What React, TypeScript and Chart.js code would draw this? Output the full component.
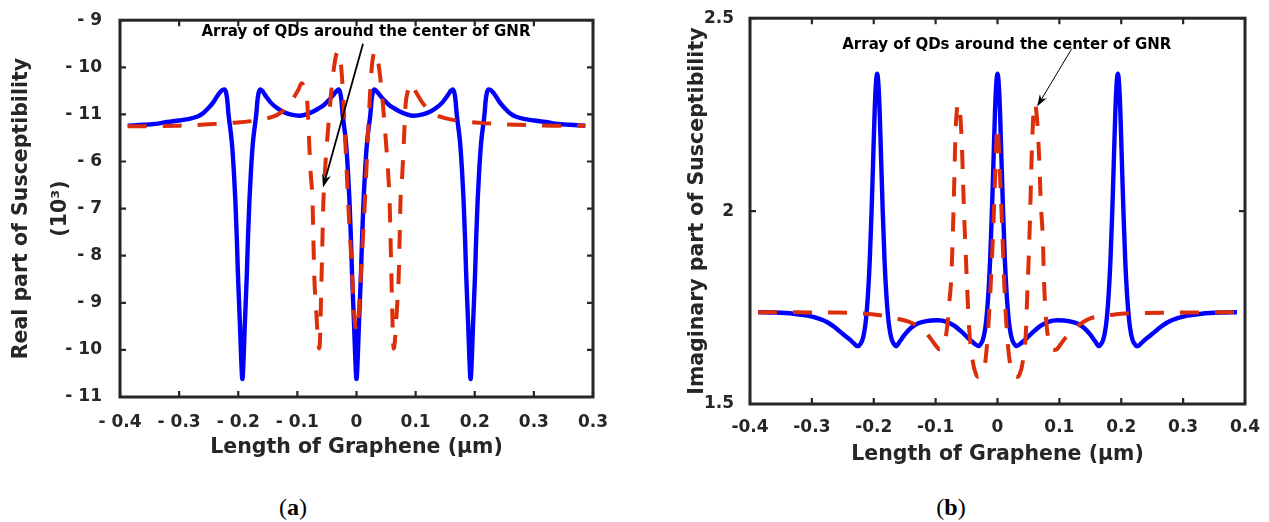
import React, { useEffect, useRef } from 'react';
import { Chart, registerables } from 'chart.js';

Chart.register(...registerables);

// ---------- Panel (a): real part (plot units 0..8 on the y scale) ----------
const A_BLUE_X = [-0.387, -0.36, -0.34, -0.32, -0.30, -0.285, -0.27, -0.26, -0.25, -0.242, -0.236, -0.23, -0.2265,
  -0.2235, -0.2205, -0.2185, -0.2167, -0.2108, -0.2075, -0.205, -0.2025, -0.2005, -0.197, -0.195, -0.193, -0.191, -0.189, -0.1855, -0.1835, -0.181, -0.1785, -0.1752, -0.1693, -0.1675, -0.1655, -0.1625,
  -0.1595, -0.155, -0.15, -0.145, -0.135, -0.125, -0.112, -0.097, -0.085, -0.075, -0.065, -0.055, -0.047, -0.040, -0.0335,
  -0.0305, -0.0275, -0.0255, -0.0237, -0.0178, -0.0145, -0.012, -0.0095, -0.0075, -0.004, -0.002, 0, 0.002, 0.004, 0.0075, 0.0095, 0.012, 0.0145, 0.0178, 0.0237, 0.0255, 0.0275, 0.0305,
  0.0335, 0.040, 0.047, 0.055, 0.065, 0.075, 0.085, 0.097, 0.112, 0.125, 0.135, 0.145, 0.15, 0.155, 0.1595,
  0.1625, 0.1655, 0.1675, 0.1693, 0.1752, 0.1785, 0.181, 0.1835, 0.1855, 0.189, 0.191, 0.193, 0.195, 0.197, 0.2005, 0.2025, 0.205, 0.2075, 0.2108, 0.2167, 0.2185, 0.2205, 0.2235,
  0.2265, 0.23, 0.236, 0.242, 0.25, 0.26, 0.27, 0.285, 0.30, 0.32, 0.34, 0.36, 0.387];
const A_BLUE_Y = [5.76, 5.78, 5.80, 5.84, 5.87, 5.90, 5.95, 6.02, 6.14, 6.26, 6.38, 6.48, 6.52,
  6.53, 6.46, 6.30, 6.03, 5.40, 4.80, 4.20, 3.40, 2.60, 1.50, 0.80, 0.38, 0.80, 1.50, 2.60, 3.40, 4.20, 4.80, 5.40, 6.03, 6.30, 6.46, 6.53,
  6.50, 6.42, 6.33, 6.25, 6.14, 6.06, 6.00, 5.97, 6.00, 6.05, 6.12, 6.20, 6.30, 6.40, 6.50,
  6.53, 6.46, 6.30, 6.03, 5.40, 4.80, 4.20, 3.40, 2.60, 1.50, 0.80, 0.38, 0.80, 1.50, 2.60, 3.40, 4.20, 4.80, 5.40, 6.03, 6.30, 6.46, 6.53,
  6.50, 6.40, 6.30, 6.20, 6.12, 6.05, 6.00, 5.97, 6.00, 6.06, 6.14, 6.25, 6.33, 6.42, 6.50,
  6.53, 6.46, 6.30, 6.03, 5.40, 4.80, 4.20, 3.40, 2.60, 1.50, 0.80, 0.38, 0.80, 1.50, 2.60, 3.40, 4.20, 4.80, 5.40, 6.03, 6.30, 6.46, 6.53,
  6.52, 6.48, 6.38, 6.26, 6.14, 6.02, 5.95, 5.90, 5.87, 5.84, 5.80, 5.78, 5.76];

const A_RED_X = [-0.387, -0.35, -0.30, -0.25, -0.21, -0.17, -0.15, -0.134, -0.122, -0.112, -0.104, -0.098,
  -0.093, -0.089, -0.086, -0.083, -0.080, -0.0775, -0.0745, -0.073, -0.0715, -0.068, -0.065, -0.063, -0.0615, -0.0605, -0.059, -0.0575, -0.056, -0.0525, -0.048, -0.043, -0.038, -0.034,
  -0.031, -0.028, -0.0255, -0.0237, -0.0203, -0.017, -0.014, -0.0105, -0.007, -0.0035, 0, 0.0035, 0.007, 0.0105, 0.014, 0.017, 0.0203, 0.0237, 0.0255, 0.028, 0.031,
  0.034, 0.038, 0.043, 0.048, 0.0525, 0.056, 0.0575, 0.059, 0.0605, 0.0615, 0.063, 0.065, 0.068, 0.0715, 0.073, 0.0745, 0.0775, 0.080, 0.083, 0.086, 0.089, 0.093,
  0.098, 0.104, 0.112, 0.122, 0.134, 0.15, 0.17, 0.21, 0.25, 0.30, 0.35, 0.387];
const A_RED_Y = [5.75, 5.75, 5.76, 5.79, 5.82, 5.87, 5.92, 5.99, 6.10, 6.24, 6.40, 6.53,
  6.66, 6.60, 6.45, 6.20, 5.40, 4.75, 4.20, 3.40, 2.60, 1.80, 1.20, 1.03, 1.30, 1.80, 2.60, 3.40, 4.15, 4.95, 5.70, 6.45, 7.00, 7.28,
  7.33, 7.22, 6.95, 6.62, 5.78, 4.91, 4.10, 3.30, 2.50, 1.70, 1.40, 1.70, 2.50, 3.30, 4.10, 4.91, 5.78, 6.62, 6.95, 7.22, 7.33,
  7.28, 7.00, 6.45, 5.70, 4.95, 4.15, 3.40, 2.60, 1.80, 1.30, 1.03, 1.20, 1.80, 2.60, 3.40, 4.20, 4.75, 5.40, 6.20, 6.45, 6.60, 6.66,
  6.53, 6.40, 6.24, 6.10, 5.99, 5.92, 5.87, 5.82, 5.79, 5.77, 5.76, 5.76];

const A_Y_TICK_LABELS = ['- 11', '- 10', '- 9', '- 8', '- 7', '- 6', '- 11', '- 10', '- 9'];
const A_X_TICK_LABELS = ['- 0.4', '- 0.3', '- 0.2', '- 0.1', '0', '0.1', '0.2', '0.3', '0.3'];

// ---------- Panel (b): imaginary part ----------
const B_BLUE_X = [-0.387, -0.36, -0.33, -0.307, -0.29, -0.275, -0.264, -0.254, -0.245, -0.238, -0.232, -0.228,
  -0.2245, -0.2215, -0.2185, -0.2155, -0.2125, -0.2095, -0.2065, -0.2035, -0.201, -0.1985, -0.1965, -0.1945, -0.1925, -0.1905, -0.188, -0.1855, -0.1825, -0.1795, -0.1765, -0.1735, -0.1705, -0.1675, -0.164,
  -0.158, -0.150, -0.140, -0.128, -0.115, -0.097, -0.082, -0.070, -0.060, -0.050, -0.042, -0.036,
  -0.0305, -0.027, -0.024, -0.021, -0.018, -0.015, -0.012, -0.009, -0.0065, -0.004, -0.002, 0, 0.002, 0.004, 0.0065, 0.009, 0.012, 0.015, 0.018, 0.021, 0.024, 0.027, 0.0305,
  0.036, 0.042, 0.050, 0.060, 0.070, 0.082, 0.097, 0.115, 0.128, 0.140, 0.150, 0.158,
  0.164, 0.1675, 0.1705, 0.1735, 0.1765, 0.1795, 0.1825, 0.1855, 0.188, 0.1905, 0.1925, 0.1945, 0.1965, 0.1985, 0.201, 0.2035, 0.2065, 0.2095, 0.2125, 0.2155, 0.2185, 0.2215, 0.2245,
  0.228, 0.232, 0.238, 0.245, 0.254, 0.264, 0.275, 0.29, 0.307, 0.33, 0.36, 0.387];
const B_BLUE_Y = [1.738, 1.737, 1.734, 1.729, 1.722, 1.712, 1.700, 1.687, 1.675, 1.666, 1.657, 1.651,
  1.650, 1.656, 1.665, 1.685, 1.72, 1.78, 1.87, 2.0, 2.13, 2.26, 2.33, 2.356, 2.33, 2.26, 2.13, 2.0, 1.87, 1.78, 1.72, 1.685, 1.665, 1.656, 1.650,
  1.662, 1.680, 1.697, 1.709, 1.715, 1.717, 1.713, 1.703, 1.690, 1.675, 1.663, 1.655,
  1.650, 1.656, 1.665, 1.685, 1.72, 1.78, 1.87, 2.0, 2.13, 2.26, 2.33, 2.356, 2.33, 2.26, 2.13, 2.0, 1.87, 1.78, 1.72, 1.685, 1.665, 1.656, 1.650,
  1.655, 1.663, 1.675, 1.690, 1.703, 1.713, 1.717, 1.715, 1.709, 1.697, 1.680, 1.662,
  1.650, 1.656, 1.665, 1.685, 1.72, 1.78, 1.87, 2.0, 2.13, 2.26, 2.33, 2.356, 2.33, 2.26, 2.13, 2.0, 1.87, 1.78, 1.72, 1.685, 1.665, 1.656, 1.650,
  1.651, 1.657, 1.666, 1.675, 1.687, 1.700, 1.712, 1.722, 1.729, 1.734, 1.737, 1.738];

const B_RED_X = [-0.387, -0.34, -0.30, -0.26, -0.22, -0.19, -0.165, -0.145, -0.128, -0.116,
  -0.106, -0.099, -0.094, -0.090, -0.086, -0.083, -0.080, -0.0775, -0.075, -0.0728,
  -0.071, -0.0695, -0.068, -0.066, -0.0635, -0.0605, -0.0578, -0.0558, -0.054, -0.0515,
  -0.049, -0.046, -0.040, -0.035, -0.031, -0.026, -0.020, -0.015, -0.010, -0.006,
  -0.003, 0, 0.003, 0.007, 0.011, 0.014, 0.019, 0.025, 0.031, 0.036,
  0.041, 0.046, 0.048, 0.0505, 0.0525, 0.054, 0.0557, 0.058, 0.0605, 0.063,
  0.0655, 0.068, 0.070, 0.0735, 0.075, 0.078, 0.084, 0.091, 0.096, 0.102,
  0.110, 0.117, 0.128, 0.138, 0.15, 0.18, 0.20, 0.24, 0.30, 0.387];
const B_RED_Y = [1.738, 1.738, 1.737, 1.737, 1.735, 1.730, 1.722, 1.714, 1.701, 1.686,
  1.665, 1.650, 1.642, 1.642, 1.655, 1.680, 1.720, 1.770, 1.818, 1.91,
  2.007, 2.10, 2.196, 2.255, 2.279, 2.255, 2.18, 2.085, 1.994, 1.896,
  1.80, 1.70, 1.611, 1.578, 1.570, 1.580, 1.606, 1.697, 1.84, 1.99,
  2.13, 2.22, 2.13, 1.98, 1.81, 1.715, 1.62, 1.58, 1.570, 1.578,
  1.611, 1.69, 1.78, 1.88, 1.98, 2.07, 2.165, 2.25, 2.279, 2.255,
  2.20, 2.11, 2.02, 1.92, 1.826, 1.73, 1.655, 1.640, 1.642, 1.655,
  1.672, 1.686, 1.700, 1.712, 1.722, 1.730, 1.734, 1.736, 1.737, 1.738];

const B_Y_TICK_LABELS = ['1.5', '2', '2.5'];
const B_X_TICK_LABELS = ['-0.4', '-0.3', '-0.2', '-0.1', '0', '0.1', '0.2', '0.3', '0.4'];

const NOTE_TEXT = 'Array of QDs around the center of GNR';
const X_TITLE = 'Length of Graphene (μm)';
const A_Y_TITLE = ['Real part of Susceptibility', '(10³)'];
const B_Y_TITLE = 'Imaginary part of Susceptibility';

const AXIS_COLOR = '#262626';
const BLUE = '#0000FF';
const RED = '#DC2E08';
const FONT = '"DejaVu Sans", "Liberation Sans", sans-serif';

const toPoints = (xs: number[], ys: number[]) => xs.map((x, i) => ({ x, y: ys[i] }));

const framePlugin = {
  id: 'frameTicks',
  afterDatasetsDraw(chart: any) {
    const { ctx, chartArea } = chart;
    const { left, right, top, bottom } = chartArea;
    const xs = chart.scales.x;
    const ys = chart.scales.y;
    const len = 6;
    ctx.save();
    ctx.strokeStyle = AXIS_COLOR;
    ctx.lineWidth = 2.2;
    ctx.beginPath();
    xs.ticks.forEach((t: any) => {
      const p = xs.getPixelForValue(t.value);
      ctx.moveTo(p, bottom);
      ctx.lineTo(p, bottom - len);
      ctx.moveTo(p, top);
      ctx.lineTo(p, top + len);
    });
    ys.ticks.forEach((t: any) => {
      const p = ys.getPixelForValue(t.value);
      ctx.moveTo(left, p);
      ctx.lineTo(left + len, p);
      ctx.moveTo(right, p);
      ctx.lineTo(right - len, p);
    });
    ctx.stroke();
    ctx.lineWidth = 3;
    ctx.strokeRect(left, top, right - left, bottom - top);
    ctx.restore();
  },
};

const notePlugin = {
  id: 'arrowNote',
  afterDatasetsDraw(chart: any, _args: any, opts: any) {
    if (!opts || !opts.text) return;
    const xs = chart.scales.x;
    const ys = chart.scales.y;
    const ctx = chart.ctx;
    ctx.save();
    ctx.fillStyle = '#000';
    ctx.font = `bold ${opts.fontSize}px ${FONT}`;
    ctx.textAlign = 'center';
    ctx.textBaseline = 'middle';
    ctx.fillText(opts.text, xs.getPixelForValue(opts.textX), ys.getPixelForValue(opts.textY));
    const x1 = xs.getPixelForValue(opts.fromX);
    const y1 = ys.getPixelForValue(opts.fromY);
    const x2 = xs.getPixelForValue(opts.toX);
    const y2 = ys.getPixelForValue(opts.toY);
    const ang = Math.atan2(y2 - y1, x2 - x1);
    const c = Math.cos(ang);
    const s = Math.sin(ang);
    const L = opts.headLen;
    const W = opts.headWidth;
    const nx = x2 - c * L * 0.7;
    const ny = y2 - s * L * 0.7;
    ctx.strokeStyle = '#000';
    ctx.lineWidth = opts.lineWidth;
    ctx.beginPath();
    ctx.moveTo(x1, y1);
    ctx.lineTo(nx, ny);
    ctx.stroke();
    const bx = x2 - c * L;
    const by = y2 - s * L;
    ctx.beginPath();
    ctx.moveTo(x2, y2);
    ctx.lineTo(bx - s * W, by + c * W);
    ctx.lineTo(nx, ny);
    ctx.lineTo(bx + s * W, by - c * W);
    ctx.closePath();
    ctx.fill();
    ctx.restore();
  },
};

const tickFont = { family: FONT, size: 17, weight: 'bold' as const };
const titleFont = { family: FONT, size: 20.5, weight: 'bold' as const };

function makeConfig(p: any): any {
  return {
    type: 'line',
    data: {
      datasets: [
        {
          data: toPoints(p.redX, p.redY),
          borderColor: RED,
          borderWidth: 4,
          borderDash: [19, 16],
          borderCapStyle: 'butt',
          pointRadius: 0,
          fill: false,
          cubicInterpolationMode: 'monotone',
          order: 0,
        },
        {
          data: toPoints(p.blueX, p.blueY),
          borderColor: BLUE,
          borderWidth: 4.4,
          pointRadius: 0,
          fill: false,
          cubicInterpolationMode: 'monotone',
          order: 1,
        },
      ],
    },
    options: {
      animation: false,
      responsive: false,
      maintainAspectRatio: false,
      events: [],
      layout: { padding: p.padding },
      plugins: {
        legend: { display: false },
        tooltip: { enabled: false },
        arrowNote: p.note,
      },
      scales: {
        x: {
          type: 'linear',
          min: -0.4,
          max: 0.4,
          grid: { display: false },
          border: { display: false },
          ticks: {
            stepSize: 0.1,
            autoSkip: false,
            maxRotation: 0,
            minRotation: 0,
            padding: p.xTickPad,
            color: AXIS_COLOR,
            font: tickFont,
            callback: (_v: any, i: number) => p.xLabels[i] ?? '',
          },
          title: {
            display: true,
            text: X_TITLE,
            color: AXIS_COLOR,
            font: titleFont,
            padding: { top: 0, bottom: p.xTitlePad },
          },
          afterFit: (s: any) => { s.height = p.xHeight; },
        },
        y: {
          type: 'linear',
          min: p.yMin,
          max: p.yMax,
          grid: { display: false },
          border: { display: false },
          ticks: {
            stepSize: p.yStep,
            autoSkip: false,
            padding: p.yTickPad,
            color: AXIS_COLOR,
            font: tickFont,
            callback: (_v: any, i: number) => p.yLabels[i] ?? '',
          },
          title: {
            display: true,
            text: p.yTitle,
            color: AXIS_COLOR,
            font: { ...titleFont, lineHeight: p.yTitleLH },
            padding: { top: p.yTitlePad, bottom: 0 },
          },
          afterFit: (s: any) => { s.width = p.yWidth; },
        },
      },
    },
    plugins: [framePlugin, notePlugin],
  };
}

export default function App() {
  const refA = useRef<HTMLCanvasElement | null>(null);
  const refB = useRef<HTMLCanvasElement | null>(null);

  useEffect(() => {
    document.body.style.margin = '0';
    const a = new Chart(refA.current as HTMLCanvasElement, makeConfig({
      redX: A_RED_X, redY: A_RED_Y, blueX: A_BLUE_X, blueY: A_BLUE_Y,
      padding: { left: 0, right: 47, top: 16, bottom: 0 },
      xLabels: A_X_TICK_LABELS, yLabels: A_Y_TICK_LABELS,
      yMin: 0, yMax: 8, yStep: 1,
      xTickPad: 7, yTickPad: 10, xTitlePad: 10.5, xHeight: 73, yWidth: 120,
      yTitle: A_Y_TITLE, yTitleLH: 1.9, yTitlePad: 2,
      note: {
        text: NOTE_TEXT, fontSize: 15, textX: 0.016, textY: 7.74,
        fromX: 0.011, fromY: 7.50, toX: -0.0567, toY: 4.45,
        lineWidth: 1.8, headLen: 13, headWidth: 4.5,
      },
    }));
    const b = new Chart(refB.current as HTMLCanvasElement, makeConfig({
      redX: B_RED_X, redY: B_RED_Y, blueX: B_BLUE_X, blueY: B_BLUE_Y,
      padding: { left: 0, right: 24, top: 17.5, bottom: 0 },
      xLabels: B_X_TICK_LABELS, yLabels: B_Y_TICK_LABELS,
      yMin: 1.5, yMax: 2.5, yStep: 0.5,
      xTickPad: 5, yTickPad: 8, xTitlePad: 3, xHeight: 66, yWidth: 110,
      yTitle: B_Y_TITLE, yTitleLH: 1.2, yTitlePad: 45,
      note: {
        text: NOTE_TEXT, fontSize: 15, textX: 0.015, textY: 2.431,
        fromX: 0.12, fromY: 2.421, toX: 0.064, toY: 2.271,
        lineWidth: 1, headLen: 12, headWidth: 4,
      },
    }));
    return () => {
      a.destroy();
      b.destroy();
    };
  }, []);

  const capStyle: React.CSSProperties = {
    position: 'absolute',
    top: 507,
    transform: 'translate(-50%, -50%)',
    fontFamily: '"Liberation Serif", "DejaVu Serif", serif',
    fontSize: 24,
    color: '#000',
    whiteSpace: 'nowrap',
    lineHeight: 1,
  };

  return (
    <div style={{ position: 'fixed', left: 0, top: 0, width: 1269, height: 522, background: '#fff', overflow: 'hidden' }}>
      <div style={{ position: 'absolute', left: 0, top: 0, width: 640, height: 470 }}>
        <canvas ref={refA} width={640} height={470} style={{ display: 'block', width: 640, height: 470 }} />
      </div>
      <div style={{ position: 'absolute', left: 640, top: 0, width: 629, height: 470 }}>
        <canvas ref={refB} width={629} height={470} style={{ display: 'block', width: 629, height: 470 }} />
      </div>
      <div style={{ ...capStyle, left: 293 }}>(<b>a</b>)</div>
      <div style={{ ...capStyle, left: 951 }}>(<b>b</b>)</div>
    </div>
  );
}
